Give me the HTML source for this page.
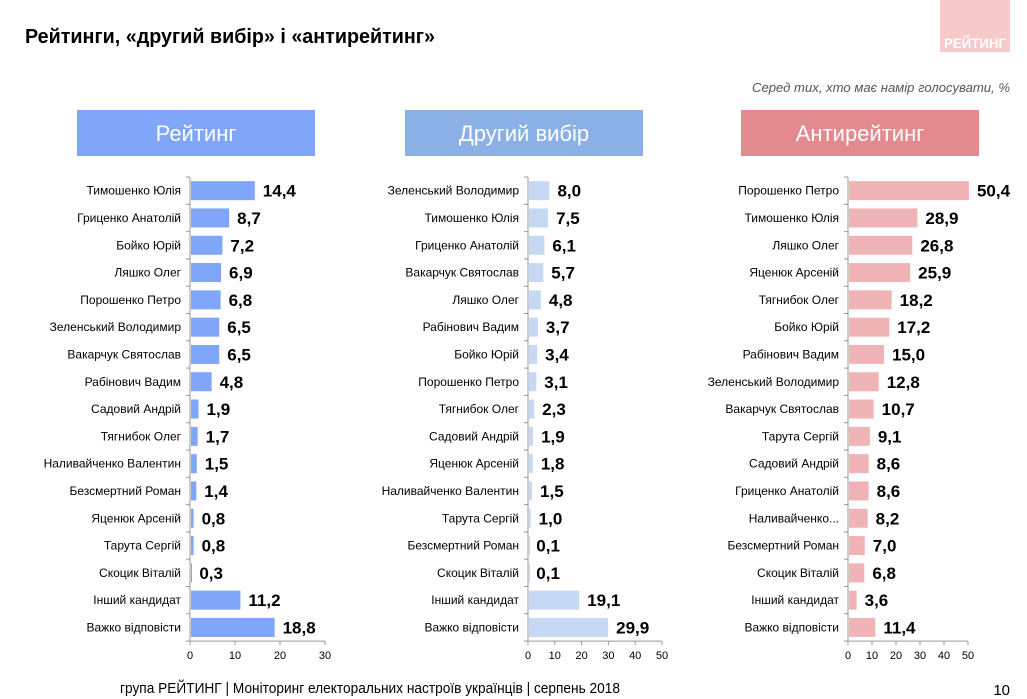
<!DOCTYPE html>
<html><head><meta charset="utf-8">
<style>
body{margin:0;background:#fff;}
svg{display:block;font-family:"Liberation Sans",sans-serif;}
</style></head>
<body>
<svg id="c" width="1027" height="699" viewBox="0 0 1027 699">
<rect x="0" y="0" width="1027" height="699" fill="#fff"/>
<rect x="940" y="0" width="70" height="52" fill="#f6c9ca"/>
<text x="975" y="48" text-anchor="middle" fill="#fff" font-weight="bold" font-size="14" textLength="62" lengthAdjust="spacingAndGlyphs">РЕЙТИНГ</text>
<text x="25" y="43" font-weight="bold" font-size="20" fill="#000" textLength="410" lengthAdjust="spacingAndGlyphs">Рейтинги, «другий вибір» і «антирейтинг»</text>
<text x="1010" y="92" text-anchor="end" font-style="italic" font-size="13" fill="#555" textLength="258" lengthAdjust="spacingAndGlyphs">Серед тих, хто має намір голосувати, %</text>
<text x="120" y="693" font-size="15" fill="#000" textLength="500" lengthAdjust="spacingAndGlyphs">група РЕЙТИНГ |  Моніторинг електоральних настроїв українців | серпень  2018</text>
<text x="1010" y="695" text-anchor="end" font-size="15" fill="#000">10</text>
<g id="panels"></g>
</svg>
<script>
const names1=["Тимошенко Юлія","Гриценко Анатолій","Бойко Юрій","Ляшко Олег","Порошенко Петро","Зеленський Володимир","Вакарчук Святослав","Рабінович Вадим","Садовий Андрій","Тягнибок Олег","Наливайченко Валентин","Безсмертний Роман","Яценюк Арсеній","Тарута Сергій","Скоцик Віталій","Інший кандидат","Важко відповісти"];
const values1=[14.4,8.7,7.2,6.9,6.8,6.5,6.5,4.8,1.9,1.7,1.5,1.4,0.8,0.8,0.3,11.2,18.8];
const ticks1=[0,10,20,30];
const names2=["Зеленський Володимир","Тимошенко Юлія","Гриценко Анатолій","Вакарчук Святослав","Ляшко Олег","Рабінович Вадим","Бойко Юрій","Порошенко Петро","Тягнибок Олег","Садовий Андрій","Яценюк Арсеній","Наливайченко Валентин","Тарута Сергій","Безсмертний Роман","Скоцик Віталій","Інший кандидат","Важко відповісти"];
const values2=[8.0,7.5,6.1,5.7,4.8,3.7,3.4,3.1,2.3,1.9,1.8,1.5,1.0,0.1,0.1,19.1,29.9];
const ticks2=[0,10,20,30,40,50];
const names3=["Порошенко Петро","Тимошенко Юлія","Ляшко Олег","Яценюк Арсеній","Тягнибок Олег","Бойко Юрій","Рабінович Вадим","Зеленський Володимир","Вакарчук Святослав","Тарута Сергій","Садовий Андрій","Гриценко Анатолій","Наливайченко...","Безсмертний Роман","Скоцик Віталій","Інший кандидат","Важко відповісти"];
const values3=[50.4,28.9,26.8,25.9,18.2,17.2,15.0,12.8,10.7,9.1,8.6,8.6,8.2,7.0,6.8,3.6,11.4];
const ticks3=[0,10,20,30,40,50];
const headers=["Рейтинг","Другий вибір","Антирейтинг"];

const NS="http://www.w3.org/2000/svg";
const root=document.getElementById('panels');
function mk(tag,attrs,parent){const e=document.createElementNS(NS,tag);for(const k in attrs)e.setAttribute(k,attrs[k]);parent.appendChild(e);return e;}
const panels=[
 {names:names1,values:values1,ticks:ticks1,x0:190,x1:325,max:30,color:"#7fa6f8",hx:77,hc:"#7fa6f8",key:"rating"},
 {names:names2,values:values2,ticks:ticks2,x0:528,x1:662,max:50,color:"#c6d9f4",hx:405,hc:"#8ab0e6",key:"second-choice"},
 {names:names3,values:values3,ticks:ticks3,x0:848,x1:968,max:50,color:"#f1b4b6",hx:741,hc:"#e28a8e",key:"antirating"}
];
const yTop=177,step=27.3,bh=19;
panels.forEach((p,pi)=>{
 const g=mk('g',{},root);
 
 
 const hr=mk('rect',{x:p.hx,y:110,width:238,height:46,fill:p.hc},g);
 
 
 const ht=mk('text',{x:p.hx+119,y:141,'text-anchor':'middle',fill:'#fff','font-size':22},g);
 ht.textContent=headers[pi];
 
 
 const sx=v=>p.x0+(p.x1-p.x0)*v/p.max;
 const n=p.names.length;
 const yBot=yTop+step*n;
 const ax=mk('line',{x1:p.x0,y1:yTop,x2:p.x0,y2:yBot,stroke:'#999','stroke-width':1},g);
 
 
 for(let i=0;i<=n;i++){const t=mk('line',{x1:p.x0-4,y1:yTop+step*i,x2:p.x0,y2:yTop+step*i,stroke:'#999'},g);}
 const xa=mk('line',{x1:p.x0,y1:yBot,x2:p.x1,y2:yBot,stroke:'#999'},g);
 
 
 p.ticks.forEach(t=>{
  const l=mk('line',{x1:sx(t),y1:yBot,x2:sx(t),y2:yBot+4,stroke:'#999'},g);
  
  
  const tx=mk('text',{x:sx(t),y:yBot+18,'text-anchor':'middle','font-size':11,fill:'#000'},g);
  tx.textContent=t;
  
  
 });
 p.names.forEach((nm,i)=>{
  const cy=yTop+step*i+step/2;
  const lb=mk('text',{x:p.x0-9,y:cy+4,'text-anchor':'end','font-size':12,fill:'#000'},g);
  lb.textContent=nm;
  
  
  const v=p.values[i];
  const b=mk('rect',{x:p.x0+1,y:cy-bh/2,width:Math.max(sx(v)-p.x0-1,1),height:bh,fill:p.color},g);
  
  
  const vt=mk('text',{x:sx(v)+8,y:cy+6,'font-size':17,'font-weight':'bold',fill:'#000'},g);
  vt.textContent=v.toFixed(1).replace('.',',');
  
  
 });
});
</script>
</body></html>
